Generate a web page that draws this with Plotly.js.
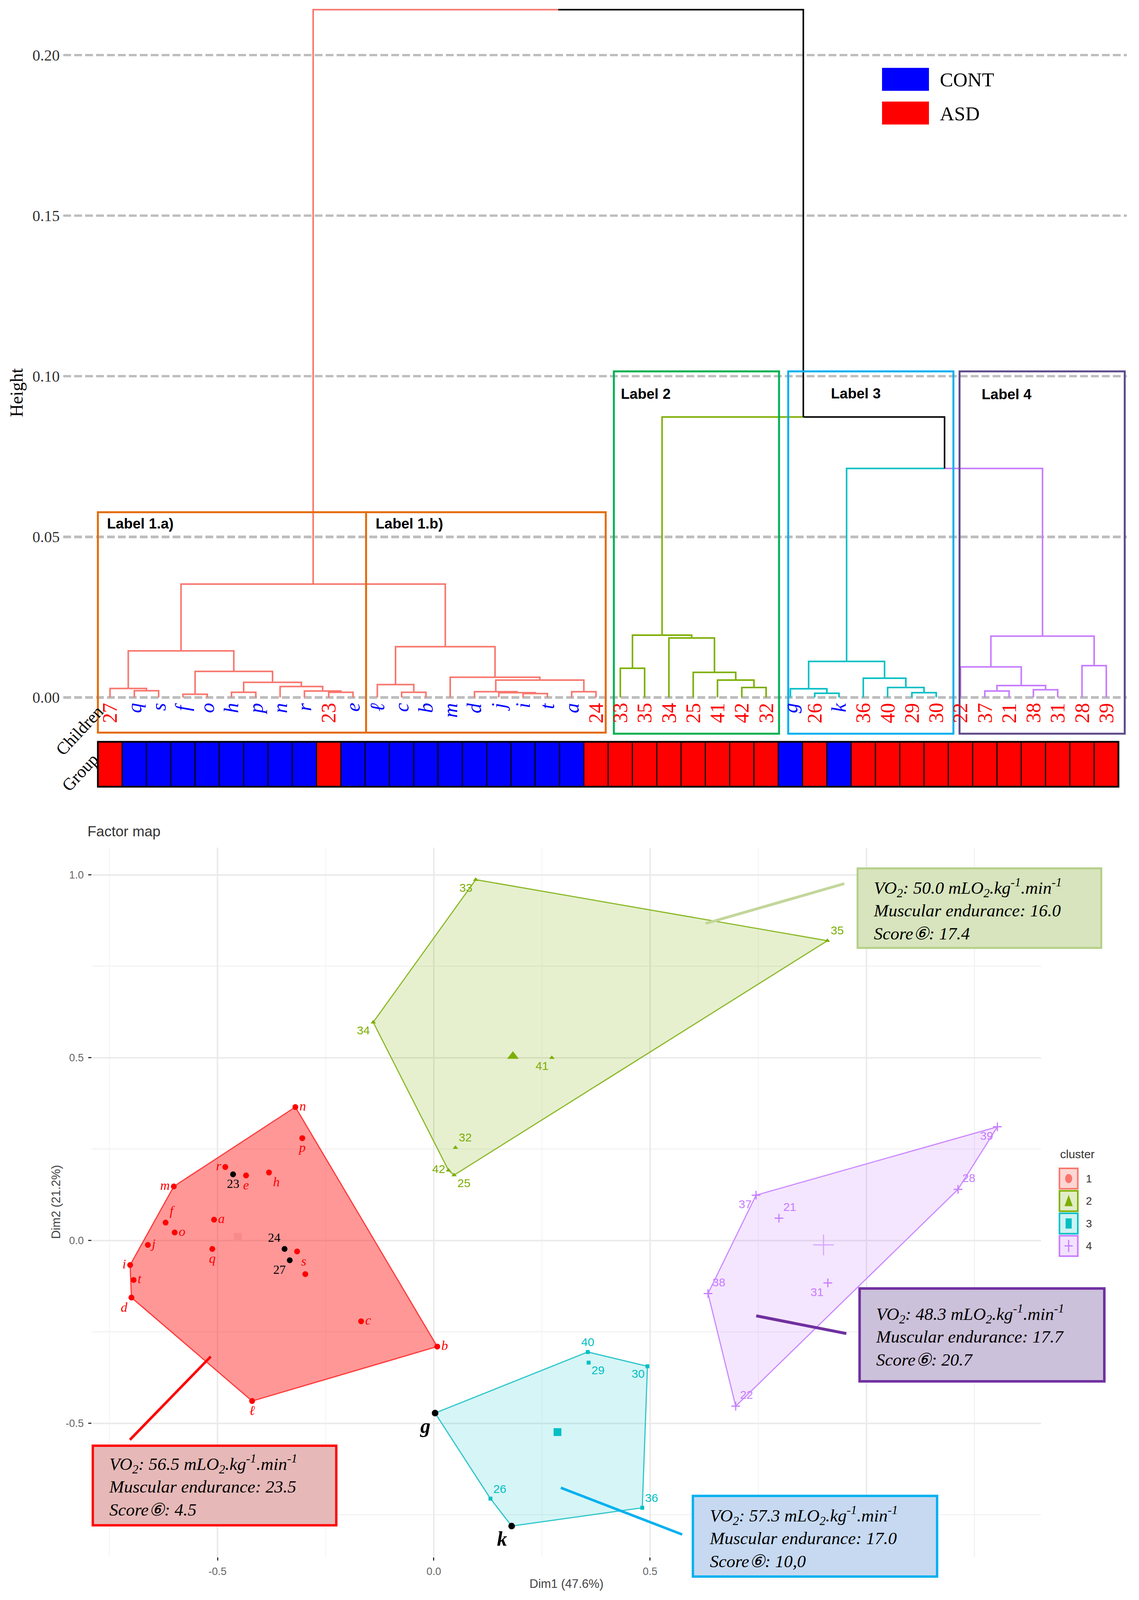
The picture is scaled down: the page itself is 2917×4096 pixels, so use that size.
<!DOCTYPE html>
<html><head><meta charset="utf-8">
<script src="https://cdn.plot.ly/plotly-3.0.1.min.js"></script>
<style>html,body{margin:0;padding:0;background:#fff}</style>
</head><body><div id="chart" style="width:2917px;height:4096px"></div>
<script>
// ================= DATA =================
// Dendrogram leaves (left to right)
const leafLabels = ['27','q','s','f','o','h','p','n','r','23','e','ℓ','c','b','m','d','j','i','t','a','24',
  '33','35','34','25','41','42','32','g','26','k','36','40','29','30','22','37','21','38','31','28','39'];
const leafGroup = leafLabels.map(l => /^[0-9]+$/.test(l) ? 'ASD' : 'CONT');
const leafCluster = [1,1,1,1,1,1,1,1,1,1,1,1,1,1,1,1,1,1,1,1,1,
  2,2,2,2,2,2,2, 3,3,3,3,3,3,3, 4,4,4,4,4,4,4];
// hclust-style merges: negative = leaf -(index+1), positive = merge number (1-based)
const mergeA = [-2,-1,-4,-6,-10,-9,-8,4,3,2, -13,-12,-18,-17,-16,-20,15,-15,12,10,
  -22,-27,-26,-25,-24,21, -30,-29,-34,-33,-32,28, -37,-39,33,-36,-41,36, 32,26,20];
const mergeB = [-3,1,-5,-7,-11,5,6,7,8,9, -14,11,-19,13,14,-21,16,17,18,19,
  -23,-28,22,23,24,25, -31,27,-35,29,30,31, -38,-40,34,35,-42,37, 38,39,40];
const mergeHeight = [0.0021,0.0028,0.0010,0.0016,0.0016,0.0020,0.0034,0.0047,0.0081,0.0145,
  0.0016,0.0040,0.0012,0.0015,0.0018,0.0018,0.0054,0.0063,0.0158,0.0353,
  0.0091,0.0031,0.0054,0.0078,0.0185,0.0194,
  0.0013,0.0027,0.0015,0.0031,0.0060,0.0112,
  0.0020,0.0024,0.0037,0.0095,0.0099,0.0191,
  0.0713,0.0873,0.2141];
const heightTicks = [0, 0.05, 0.10, 0.15, 0.20];

// Factor map individuals
const mapLabel = ['n','p','r','23','e','h','m','a','f','o','j','q','24','s','27','','i','t','d','c','b','ℓ',
  '33','35','34','41','32','42','25',
  '40','29','30','36','k','26','g',
  '39','28','37','21','31','38','22'];
const mapDim1 = [-0.320,-0.304,-0.482,-0.464,-0.434,-0.381,-0.601,-0.508,-0.620,-0.599,-0.661,-0.512,-0.345,-0.316,-0.333,-0.297,-0.702,-0.694,-0.699,-0.168,0.008,-0.420,
  0.097,0.910,-0.140,0.273,0.050,0.034,0.047,
  0.356,0.358,0.494,0.482,0.180,0.131,0.003,
  1.303,1.212,0.745,0.798,0.911,0.634,0.698];
const mapDim2 = [0.365,0.280,0.201,0.181,0.178,0.186,0.148,0.057,0.049,0.022,-0.012,-0.023,-0.023,-0.030,-0.054,-0.092,-0.067,-0.108,-0.156,-0.221,-0.290,-0.439,
  0.987,0.820,0.597,0.500,0.254,0.192,0.179,
  -0.305,-0.334,-0.344,-0.731,-0.781,-0.706,-0.472,
  0.311,0.140,0.124,0.061,-0.116,-0.145,-0.453];
const mapCluster = [1,1,1,1,1,1,1,1,1,1,1,1,1,1,1,1,1,1,1,1,1,1,
  2,2,2,2,2,2,2, 3,3,3,3,3,3,3, 4,4,4,4,4,4,4];
const centerDim1 = [-0.453, 0.183, 0.286, 0.901];
const centerDim2 = [0.010, 0.504, -0.524, -0.012];
const dimTicks = [-0.5, 0, 0.5, 1.0];

// Cluster profiles
const profVO2 = ['56.5','50.0','57.3','48.3'];
const profEndurance = ['23.5','16.0','17.0','17.7'];
const profScore = ['4.5','17.4','10,0','20.7'];

// ================= STYLE / LAYOUT =================
const W = 2917, H = 4096;
const px = x => x / 1117, py = y => 1 - y / 1568;
const dendColor = {0:'#000000',1:'#F8766D',2:'#7CAE00',3:'#00BFC4',4:'#C77CFF'};
const mapColor = {1:'#FF0000',2:'#7CAE00',3:'#00BFC4',4:'#C77CFF'};
const hullFill = {1:'rgba(255,35,35,0.47)',2:'rgba(124,174,0,0.19)',3:'rgba(0,191,196,0.16)',4:'rgba(199,124,255,0.19)'};
const hullLine = {1:'#FF3A3A',2:'#8DB92A',3:'#2EC6CB',4:'#CC8AFF'};
const sym = {1:'circle',2:'triangle-up',3:'square',4:'cross-thin'};
const symSize = {1:15,2:12,3:10,4:16};
const cSym = {1:'square',2:'triangle-up',3:'square',4:'cross-thin'};
const cSize = {1:20,2:26,3:20,4:38};
const cColor = {1:'#F98A8A',2:'#7CAE00',3:'#00BFC4',4:'#D8A6FF'};
const mapTextPos = ['middle right','bottom center','middle left','bottom center','bottom center','bottom right','middle left','middle right','top right','middle right','middle right','bottom center','top left','bottom right','bottom left','middle right','middle left','middle right','bottom left','middle right','middle right','bottom center',
  'bottom left','top right','bottom left','bottom left','top right','middle left','bottom right',
  'top center','bottom right','bottom left','top right','bottom left','top right','bottom left',
  'bottom left','top right','bottom left','top right','bottom left','top right','top right'];
const SERIF = 'Liberation Serif, Times New Roman, serif';
const SANS = 'Liberation Sans, Arial, sans-serif';
const NARROW = 'Liberation Sans Narrow, Liberation Sans, Arial, sans-serif';

const traces = [], shapes = [], annotations = [];

// ---------- Dendrogram ----------
const nodeX = [], nodeH = [], nodeC = [];
function child(c){ if (c < 0){ const i = -c - 1; return {x:i, h:0, cl:leafCluster[i]}; } const k = c - 1; return {x:nodeX[k], h:nodeH[k], cl:nodeC[k]}; }
const segs = {}; [0,1,2,3,4].forEach(c => segs[c] = {x:[], y:[]});
for (let k = 0; k < mergeA.length; k++){
  const a = child(mergeA[k]), b = child(mergeB[k]);
  const xm = (a.x + b.x) / 2, hm = mergeHeight[k];
  nodeX[k] = xm; nodeH[k] = hm; nodeC[k] = (a.cl === b.cl) ? a.cl : 0;
  [a, b].forEach(c => { segs[c.cl].x.push(c.x, c.x, xm, null); segs[c.cl].y.push(c.h, hm, hm, null); });
}
[1,2,3,4,0].forEach(c => traces.push({type:'scatter', mode:'lines', x:segs[c].x, y:segs[c].y, xaxis:'x', yaxis:'y',
  line:{color:dendColor[c], width:4}, hoverinfo:'skip', showlegend:false}));

// leaf labels
leafLabels.forEach((l, i) => {
  const cont = leafGroup[i] === 'CONT';
  annotations.push({xref:'x', yref:'y', x:i, y:0, yshift:-12, xanchor:'center', yanchor:'top', textangle:-90,
    showarrow:false, text: cont ? '<i>' + l + '</i>' : l,
    font:{family:SERIF, size:52, color: cont ? '#0000FF' : '#FF0000'}});
});
// group bar
leafGroup.forEach((g, i) => {
  shapes.push({type:'rect', xref:'x', yref:'paper', x0:i-0.5, x1:i+0.5, y0:py(771), y1:py(727),
    fillcolor: g === 'CONT' ? '#0000FF' : '#FF0000', line:{color:'#000', width:2.6}, layer:'above'});
});
shapes.push({type:'rect', xref:'x', yref:'paper', x0:-0.5, x1:leafLabels.length-0.5, y0:py(771), y1:py(727),
  line:{color:'#000', width:4.5}, layer:'above'});

annotations.push({xref:'paper', yref:'paper', x:px(78), y:py(716), xanchor:'center', yanchor:'middle', textangle:-47, showarrow:false,
  text:'Children', font:{family:SERIF, size:44, color:'#000'}});
annotations.push({xref:'paper', yref:'paper', x:px(78.6), y:py(757), xanchor:'center', yanchor:'middle', textangle:-47, showarrow:false,
  text:'Group', font:{family:SERIF, size:44, color:'#000'}});
annotations.push({xref:'paper', yref:'paper', x:px(16.5), y:py(385), xanchor:'center', yanchor:'middle', textangle:-90, showarrow:false,
  text:'Height', font:{family:SERIF, size:46, color:'#000'}});

// label boxes
const labelBoxes = [
  {x0:96, x1:359, y0:502, y1:718, c:'#E46C0A', t:'Label 1.a)', tx:104, ty:513},
  {x0:359, x1:594, y0:502, y1:718, c:'#E46C0A', t:'Label 1.b)', tx:367.6, ty:513},
  {x0:602, x1:764, y0:364, y1:719, c:'#00B050', t:'Label 2', tx:608, ty:386},
  {x0:773, x1:935, y0:364, y1:719, c:'#00B0F0', t:'Label 3', tx:814, ty:385.5},
  {x0:941, x1:1103, y0:364, y1:719, c:'#5F4B8B', t:'Label 4', tx:962, ty:386.5}];
labelBoxes.forEach(b => {
  shapes.push({type:'rect', xref:'paper', yref:'paper', x0:px(b.x0), x1:px(b.x1), y0:py(b.y1), y1:py(b.y0),
    line:{color:b.c, width:5}, layer:'above'});
  annotations.push({xref:'paper', yref:'paper', x:px(b.tx), y:py(b.ty), xanchor:'left', yanchor:'middle',
    showarrow:false, text:'<b>' + b.t + '</b>', font:{family:SANS, size:37, color:'#000'}});
});

// CONT / ASD legend
[['CONT','#0000FF',66.5,89,78],['ASD','#FF0000',99.5,122,111.5]].forEach(r => {
  shapes.push({type:'rect', xref:'paper', yref:'paper', x0:px(865), x1:px(911), y0:py(r[3]), y1:py(r[2]),
    fillcolor:r[1], line:{width:0}});
  annotations.push({xref:'paper', yref:'paper', x:px(921), y:py(r[4]), xanchor:'left', yanchor:'middle',
    showarrow:false, text:r[0], font:{family:SERIF, size:51, color:'#000'}});
});

// ---------- Factor map ----------
function hull(pts){
  pts = pts.slice().sort((a,b) => a[0]-b[0] || a[1]-b[1]);
  const cr = (o,a,b) => (a[0]-o[0])*(b[1]-o[1]) - (a[1]-o[1])*(b[0]-o[0]);
  const lo = [], up = [];
  for (const p of pts){ while (lo.length >= 2 && cr(lo[lo.length-2], lo[lo.length-1], p) <= 0) lo.pop(); lo.push(p); }
  for (let i = pts.length-1; i >= 0; i--){ const p = pts[i]; while (up.length >= 2 && cr(up[up.length-2], up[up.length-1], p) <= 0) up.pop(); up.push(p); }
  up.pop(); lo.pop(); return lo.concat(up);
}
const isASD = l => /^[0-9]+$/.test(l);
const highlight = mapLabel.map((l, i) => l !== '' && ((mapCluster[i] === 1 && isASD(l)) || (mapCluster[i] === 3 && !isASD(l))));

[1,2,3,4].forEach(c => {
  const idx = mapCluster.map((v,i) => v === c ? i : -1).filter(i => i >= 0);
  const h = hull(idx.map(i => [mapDim1[i], mapDim2[i]]));
  h.push(h[0]);
  traces.push({type:'scatter', mode:'lines', xaxis:'x2', yaxis:'y2', x:h.map(p => p[0]), y:h.map(p => p[1]),
    fill:'toself', fillcolor:hullFill[c], line:{color:hullLine[c], width:3}, hoverinfo:'skip', showlegend:false});
});
[1,2,3,4].forEach(c => {
  const idx = mapCluster.map((v,i) => (v === c && !highlight[i]) ? i : -1).filter(i => i >= 0);
  const letters = c === 1;
  traces.push({type:'scatter', mode:'markers+text', xaxis:'x2', yaxis:'y2',
    x:idx.map(i => mapDim1[i]), y:idx.map(i => mapDim2[i]),
    text:idx.map(i => letters && mapLabel[i] ? '<i>' + mapLabel[i] + '</i>' : mapLabel[i]),
    textposition:idx.map(i => mapTextPos[i]),
    textfont:{family: letters ? SERIF : NARROW, size: letters ? 34 : 30, color: mapColor[c]},
    marker:{symbol:sym[c], size:symSize[c], color:mapColor[c], line:{color:mapColor[c], width: c === 4 ? 3 : 0}},
    cliponaxis:false, hoverinfo:'skip', showlegend:false});
});
// misclassified children in black
const hiNum = mapLabel.map((l,i) => highlight[i] && isASD(l) ? i : -1).filter(i => i >= 0);
const hiLet = mapLabel.map((l,i) => highlight[i] && !isASD(l) ? i : -1).filter(i => i >= 0);
traces.push({type:'scatter', mode:'markers+text', xaxis:'x2', yaxis:'y2',
  x:hiNum.map(i => mapDim1[i]), y:hiNum.map(i => mapDim2[i]), text:hiNum.map(i => mapLabel[i]),
  textposition:hiNum.map(i => mapTextPos[i]), textfont:{family:SERIF, size:32, color:'#000'},
  marker:{symbol:'circle', size:15, color:'#000'}, cliponaxis:false, hoverinfo:'skip', showlegend:false});
traces.push({type:'scatter', mode:'markers+text', xaxis:'x2', yaxis:'y2',
  x:hiLet.map(i => mapDim1[i]), y:hiLet.map(i => mapDim2[i]), text:hiLet.map(i => '<b><i>' + mapLabel[i] + '</i></b>'),
  textposition:hiLet.map(i => mapTextPos[i]), textfont:{family:SERIF, size:52, color:'#000'},
  marker:{symbol:'circle', size:17, color:'#000'}, cliponaxis:false, hoverinfo:'skip', showlegend:false});
// cluster centres
[1,2,3,4].forEach(c => {
  traces.push({type:'scatter', mode:'markers', xaxis:'x2', yaxis:'y2', x:[centerDim1[c-1]], y:[centerDim2[c-1]],
    marker:{symbol:cSym[c], size:cSize[c], color:cColor[c], line:{color:cColor[c], width: c === 4 ? 3 : 0}},
    hoverinfo:'skip', showlegend:false});
});

annotations.push({xref:'paper', yref:'paper', x:px(85), y:py(815), xanchor:'left', yanchor:'middle', showarrow:false,
  text:'Factor map', font:{family:SANS, size:37, color:'#333'}});
annotations.push({xref:'paper', yref:'paper', x:px(555.5), y:py(1552), xanchor:'center', yanchor:'middle', showarrow:false,
  text:'Dim1 (47.6%)', font:{family:NARROW, size:31, color:'#444'}});
annotations.push({xref:'paper', yref:'paper', x:px(55), y:py(1178), xanchor:'center', yanchor:'middle', textangle:-90, showarrow:false,
  text:'Dim2 (21.2%)', font:{family:NARROW, size:31, color:'#444'}});

// cluster legend
annotations.push({xref:'paper', yref:'paper', x:px(1039), y:py(1131), xanchor:'left', yanchor:'middle', showarrow:false,
  text:'cluster', font:{family:NARROW, size:30, color:'#333'}});
const keyFill = {1:'rgba(248,118,109,0.3)',2:'rgba(124,174,0,0.22)',3:'rgba(0,191,196,0.2)',4:'rgba(199,124,255,0.22)'};
[1,2,3,4].forEach((c, k) => {
  const top = 1145 + k*22, bot = top + 20, cy = (top + bot)/2, cx = 1048;
  shapes.push({type:'rect', xref:'paper', yref:'paper', x0:px(1039), x1:px(1057), y0:py(bot), y1:py(top),
    fillcolor:keyFill[c], line:{color:dendColor[c], width:4}});
  const col = dendColor[c];
  if (c === 1) shapes.push({type:'circle', xref:'paper', yref:'paper', x0:px(cx-3.5), x1:px(cx+3.5), y0:py(cy+4.5), y1:py(cy-4.5), fillcolor:col, line:{width:0}});
  if (c === 2) shapes.push({type:'path', xref:'paper', yref:'paper', path:`M ${px(cx)} ${py(cy-6)} L ${px(cx+4)} ${py(cy+5)} L ${px(cx-4)} ${py(cy+5)} Z`, fillcolor:col, line:{width:0}});
  if (c === 3) shapes.push({type:'rect', xref:'paper', yref:'paper', x0:px(cx-3), x1:px(cx+3), y0:py(cy+5), y1:py(cy-5), fillcolor:col, line:{width:0}});
  if (c === 4) shapes.push({type:'path', xref:'paper', yref:'paper', path:`M ${px(cx-4)} ${py(cy)} L ${px(cx+4)} ${py(cy)} M ${px(cx)} ${py(cy-6)} L ${px(cx)} ${py(cy+6)}`, line:{color:col, width:3}});
  annotations.push({xref:'paper', yref:'paper', x:px(1064), y:py(cy), xanchor:'left', yanchor:'middle', showarrow:false,
    text:String(c), font:{family:NARROW, size:28, color:'#333'}});
});

// cluster profile call-outs
const callouts = [
  {c:1, box:[91,1416.8,329.8,1494.8], fill:'#E6B9B8', edge:'#FF0000', ew:6, tx:106, ty:1456, line:[206.7,1329.4,127.4,1411], lc:'#FF0000', lw:6.5},
  {c:2, box:[841,851,1080,929], fill:'#D7E4BD', edge:'#B5CF88', ew:5, tx:856, ty:891, line:[828,866,692,905], lc:'#C3D69B', lw:7},
  {c:3, box:[679.5,1466,919,1545], fill:'#C6D9F1', edge:'#00B0F0', ew:6, tx:695, ty:1506.5, line:[550,1458,669,1503.8], lc:'#00B0F0', lw:6.5},
  {c:4, box:[843,1262.7,1083,1353.7], fill:'#CCC1DA', edge:'#7030A0', ew:6.5, tx:858, ty:1309, line:[741.6,1289.5,830,1306.9], lc:'#7030A0', lw:7.5}];
callouts.forEach(o => {
  shapes.push({type:'line', xref:'paper', yref:'paper', x0:px(o.line[0]), y0:py(o.line[1]), x1:px(o.line[2]), y1:py(o.line[3]),
    line:{color:o.lc, width:o.lw}, layer:'above'});
  shapes.push({type:'rect', xref:'paper', yref:'paper', x0:px(o.box[0]), x1:px(o.box[2]), y0:py(o.box[3]), y1:py(o.box[1]),
    fillcolor:o.fill, line:{color:o.edge, width:o.ew}, layer:'above'});
  const k = o.c - 1;
  annotations.push({xref:'paper', yref:'paper', x:px(o.tx), y:py(o.ty), xanchor:'left', yanchor:'middle', align:'left', showarrow:false,
    text:'<i>VO<sub>2</sub>: ' + profVO2[k] + ' mLO<sub>2</sub>.kg<sup>-1</sup>.min<sup>-1</sup><br>Muscular endurance: ' + profEndurance[k] + '<br>Score⑥: ' + profScore[k] + '</i>',
    font:{family:SERIF, size:45, color:'#000'}});
});

const layout = {
  width:W, height:H, autosize:false, margin:{l:0,r:0,t:0,b:0,pad:0},
  paper_bgcolor:'#ffffff', plot_bgcolor:'rgba(0,0,0,0)', showlegend:false,
  xaxis:{domain:[px(62), px(1105)], range:[(62-107.9)/23.83, (1105-107.9)/23.83], visible:false, fixedrange:true},
  yaxis:{domain:[py(700), 1], range:[(683.5-700)/3148, 683.5/3148], tickvals:heightTicks, tickformat:'.2f',
    showgrid:true, gridcolor:'#BEBEBE', gridwidth:6.5, griddash:'20px,8px', zeroline:false, showline:false, ticks:'',
    ticklabelstandoff:8, tickfont:{family:SERIF, size:40, color:'#333'}, anchor:'x', fixedrange:true},
  xaxis2:{domain:[px(90), px(1021)], range:[(90-425.4)/424.2, (1021-425.4)/424.2], anchor:'y2',
    tickvals:dimTicks, ticktext:['-0.5','0.0','0.5',''], showgrid:true, gridcolor:'#EBEBEB', gridwidth:4, zeroline:false, showline:false,
    minor:{tickvals:[-0.75,-0.25,0.25,0.75,1.25], showgrid:true, gridcolor:'#F3F3F3', gridwidth:2.5, ticks:''},
    ticks:'outside', ticklen:8, tickwidth:3, tickcolor:'#333', ticklabelstandoff:4,
    tickfont:{family:NARROW, size:27, color:'#666'}, fixedrange:true},
  yaxis2:{domain:[py(1526), py(830.7)], range:[(1215.7-1526)/358.3, (1215.7-830.7)/358.3], anchor:'x2',
    tickvals:dimTicks, ticktext:['-0.5','0.0','0.5','1.0'], showgrid:true, gridcolor:'#EBEBEB', gridwidth:4, zeroline:false, showline:false,
    minor:{tickvals:[-0.75,-0.25,0.25,0.75], showgrid:true, gridcolor:'#F3F3F3', gridwidth:2.5, ticks:''},
    ticks:'outside', ticklen:8, tickwidth:3, tickcolor:'#333', ticklabelstandoff:6,
    tickfont:{family:NARROW, size:27, color:'#666'}, fixedrange:true},
  shapes:shapes, annotations:annotations
};
Plotly.newPlot('chart', traces, layout, {displayModeBar:false, staticPlot:true});
</script></body></html>
